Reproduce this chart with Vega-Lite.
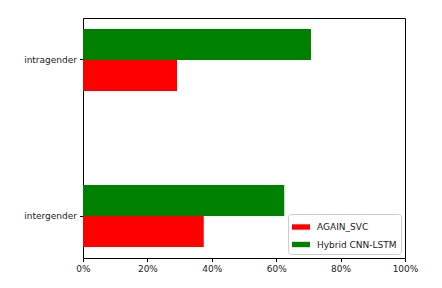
{
  "$schema": "https://vega.github.io/schema/vega-lite/v6.json",
  "autosize": "none",
  "width": 322,
  "height": 240,
  "padding": {"left": 83, "top": 18, "right": 37, "bottom": 30},
  "background": "white",
  "data": {"values": [
    {"group": "intragender", "model": "AGAIN_SVC", "value": 0.292},
    {"group": "intragender", "model": "Hybrid CNN-LSTM", "value": 0.708},
    {"group": "intergender", "model": "AGAIN_SVC", "value": 0.375},
    {"group": "intergender", "model": "Hybrid CNN-LSTM", "value": 0.625}
  ]},
  "mark": {"type": "bar", "cornerRadius": 0},
  "encoding": {
    "y": {"field": "group", "type": "nominal", "sort": ["intragender", "intergender"],
      "scale": {"paddingInner": 0.6026, "paddingOuter": 0.0705},
      "axis": {"title": null, "domain": false, "tickColor": "black", "tickSize": 3.5, "labelFontSize": 9, "labelFont": "DejaVu Sans", "labelColor": "#222222", "labelPadding": 3}},
    "yOffset": {"field": "model", "type": "nominal", "sort": ["Hybrid CNN-LSTM", "AGAIN_SVC"], "scale": {"paddingInner": 0, "paddingOuter": 0}},
    "x": {"field": "value", "type": "quantitative",
      "scale": {"domain": [0, 1], "nice": false},
      "axis": {"title": null, "format": ".0%", "values": [0, 0.2, 0.4, 0.6, 0.8, 1], "grid": false, "domain": false, "tickColor": "black", "tickSize": 3.5, "labelFontSize": 9, "labelFont": "DejaVu Sans", "labelColor": "#222222", "labelPadding": 3, "labelFlush": false}},
    "color": {"field": "model", "type": "nominal",
      "scale": {"domain": ["AGAIN_SVC", "Hybrid CNN-LSTM"], "range": ["#ff0000", "#008000"]},
      "legend": {"title": null, "orient": "bottom-right", "offset": 4, "padding": 4, "strokeColor": "#cccccc", "fillColor": "white", "cornerRadius": 3,
        "symbolType": "M-1,-0.3H1V0.3H-1Z", "symbolSize": 324, "symbolStrokeWidth": 0, "labelFontSize": 9, "labelFont": "DejaVu Sans", "labelColor": "#222222", "rowPadding": 3.5, "labelOffset": 7}}
  },
  "config": {"view": {"stroke": "black", "strokeWidth": 1}}
}
